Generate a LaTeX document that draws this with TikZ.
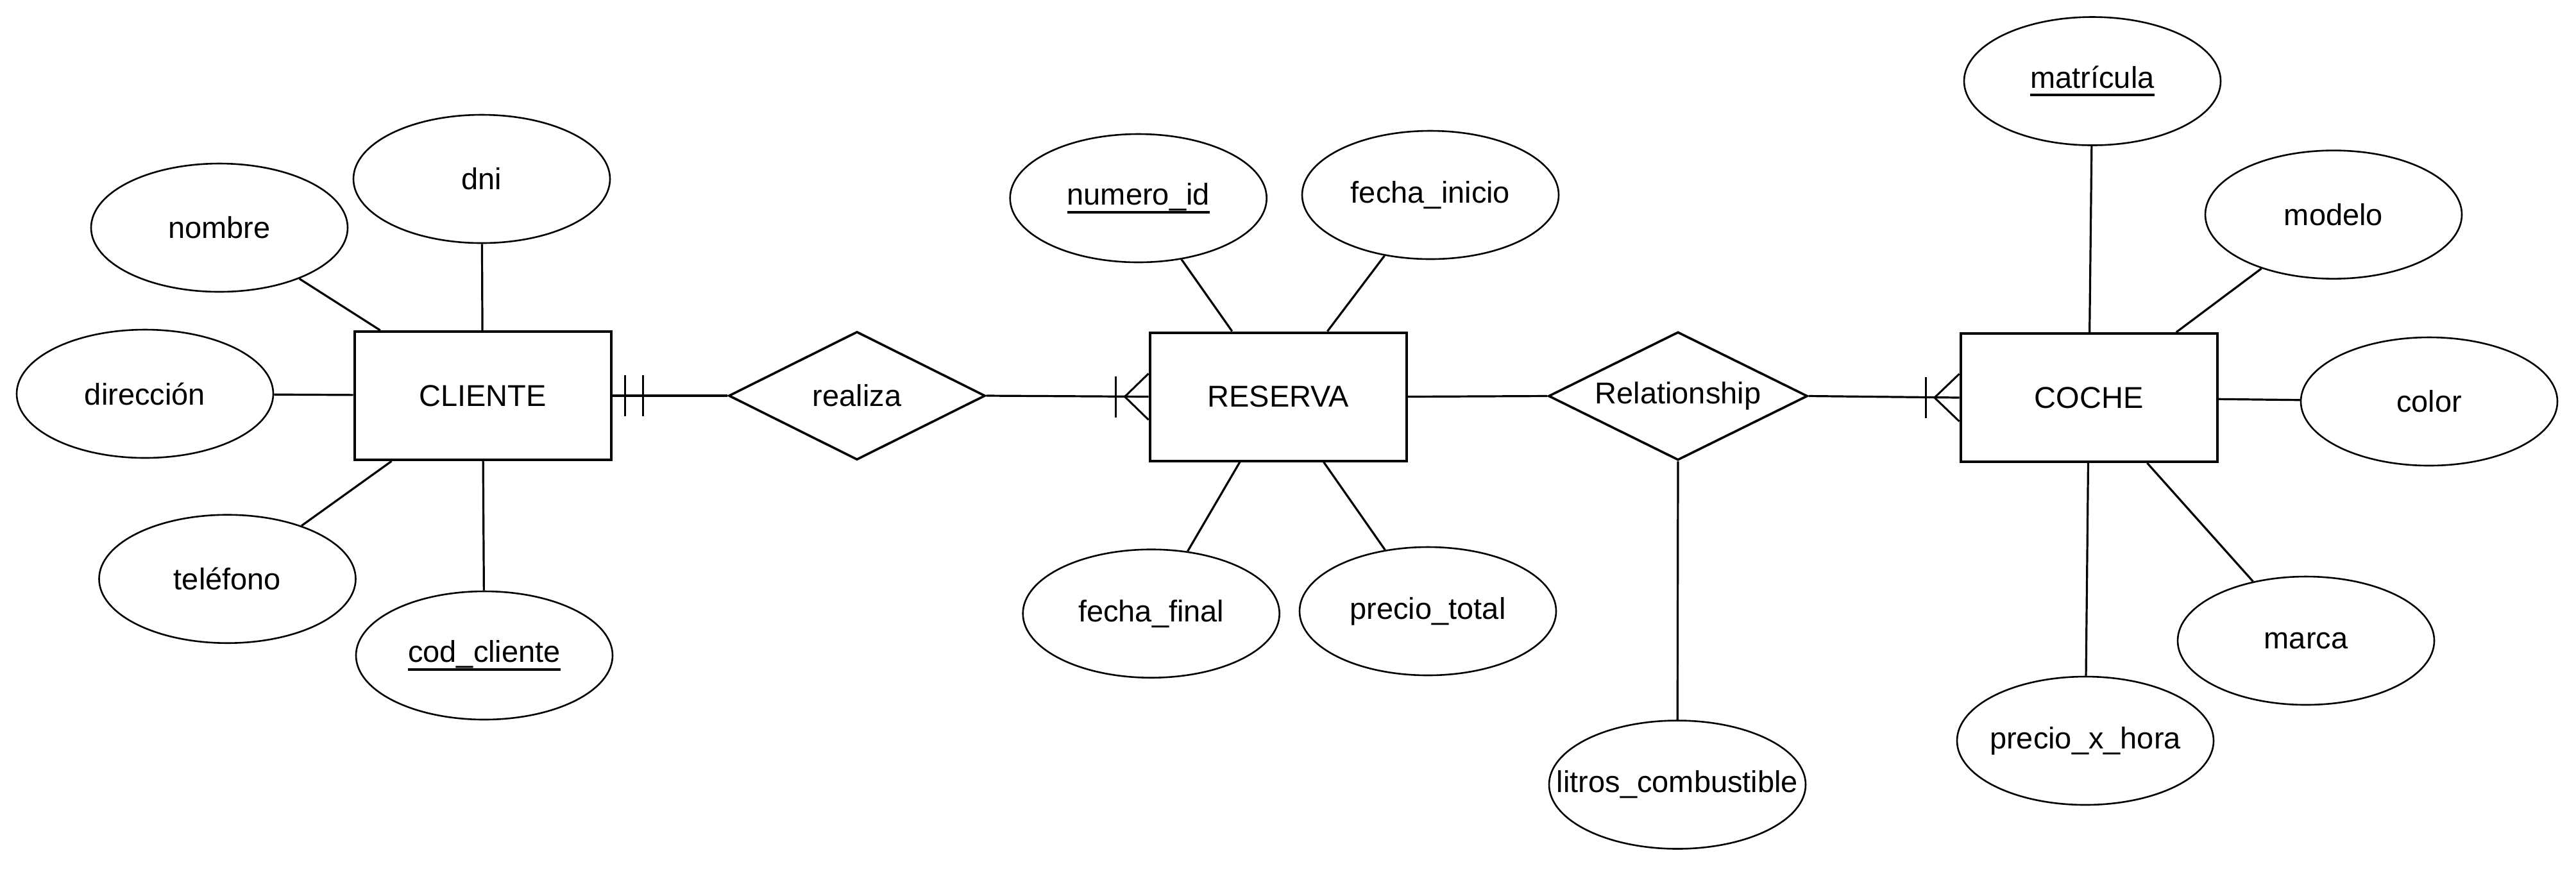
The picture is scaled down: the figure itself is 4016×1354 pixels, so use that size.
\documentclass[tikz,border=0pt]{standalone}
\usepackage{fontspec}
\setmainfont{Liberation Sans}
\usetikzlibrary{shapes.geometric,calc}
\newcommand\keyattr[1]{\setbox0\hbox{#1}\rlap{\rule[-3.25pt]{\wd0}{1pt}}\box0}
\newcommand\ctr[1]{\makebox[0pt]{#1}}
\begin{document}
\begin{tikzpicture}[x=0.25pt,y=-0.25pt,
  every node/.style={font=\fontsize{11.75}{14}\selectfont},
  entity/.style={draw,line width=1pt,minimum width=100pt,minimum height=50pt,inner sep=0pt},
  rel/.style={draw,diamond,line width=0.9pt,minimum width=100pt,minimum height=50pt,inner sep=0pt,aspect=2},
  attr/.style={draw,ellipse,line width=0.65pt,minimum width=100pt,minimum height=50pt,inner sep=0pt},
  conn/.style={line width=0.8pt},
  barmark/.style={line width=0.75pt}
]
\useasboundingbox (0,0) rectangle (4016,1354);

% entities and relationships
\node[entity] (cliente) at (752.5,617) {CLIENTE};
\node[entity] (reserva) at (1992.5,618.5) {RESERVA};
\node[entity] (coche) at (3256.5,620) {COCHE};
\node[rel] (realiza) at (1336,617) {realiza};
\node[rel,minimum width=101pt] (relac) at (2616,617.5) {Relationship};

% attributes of CLIENTE
\node[attr] (dni) at (751,279) {\ctr{dni}};
\node[attr] (nombre) at (342,355) {\ctr{nombre}};
\node[attr] (direccion) at (226,614) {\ctr{dirección}};
\node[attr] (telefono) at (354.5,902.7) {\ctr{teléfono}};
\node[attr] (codcliente) at (755,1022) {\ctr{\keyattr{cod\_cliente}}};

% attributes of RESERVA
\node[attr] (numeroid) at (1774.7,309) {\ctr{\keyattr{numero\_id}}};
\node[attr] (fechainicio) at (2230,304) {\ctr{fecha\_inicio}};
\node[attr] (fechafinal) at (1794.7,956.7) {\ctr{fecha\_final}};
\node[attr] (preciototal) at (2226,953) {\ctr{precio\_total}};

% attribute of Relationship
\node[attr] (litros) at (2615,1223.5) {\ctr{litros\_combustible}};

% attributes of COCHE
\node[attr] (matricula) at (3262,126.5) {\ctr{\keyattr{matrícula}}};
\node[attr] (modelo) at (3638,334.6) {\ctr{modelo}};
\node[attr] (color) at (3787,626) {\ctr{color}};
\node[attr] (marca) at (3595,999) {\ctr{marca}};
\node[attr] (precioxhora) at (3251,1155) {\ctr{precio\_x\_hora}};

% attribute connectors
\draw[conn] (nombre) -- (cliente);
\draw[conn] (dni) -- (cliente);
\draw[conn] (direccion) -- (cliente);
\draw[conn] (telefono) -- (cliente);
\draw[conn] (codcliente) -- (cliente);
\draw[conn] (numeroid) -- (reserva);
\draw[conn] (fechainicio) -- (reserva);
\draw[conn] (fechafinal) -- (reserva);
\draw[conn] (preciototal) -- (reserva);
\draw[conn] (relac.south) -- (litros);
\draw[conn] (matricula) -- (coche);
\draw[conn] (modelo) -- (coche);
\draw[conn] (color) -- (coche);
\draw[conn] (marca) -- (coche);
\draw[conn] (precioxhora) -- (coche);

% relationship connectors
\draw[conn] (cliente.east) -- (realiza.west);
\draw[barmark] ($(cliente.east)+(20,-32)$) -- ($(cliente.east)+(20,32)$);
\draw[barmark] ($(cliente.east)+(47.5,-32)$) -- ($(cliente.east)+(47.5,32)$);

\draw[conn] (realiza.east) -- (reserva.west);
\draw[barmark] ($(reserva.west)+(-51,-32)$) -- ($(reserva.west)+(-51,32)$);
\draw[barmark] ($(reserva.west)+(0,-36)$) -- ($(reserva.west)+(-37,0)$) -- ($(reserva.west)+(0,36)$);

\draw[conn] (reserva.east) -- (relac.west);

\draw[conn] (relac.east) -- (coche.west);
\draw[barmark] ($(coche.west)+(-52,-32)$) -- ($(coche.west)+(-52,32)$);
\draw[barmark] ($(coche.west)+(0,-37)$) -- ($(coche.west)+(-38.6,0)$) -- ($(coche.west)+(0,37)$);
\end{tikzpicture}
\end{document}
